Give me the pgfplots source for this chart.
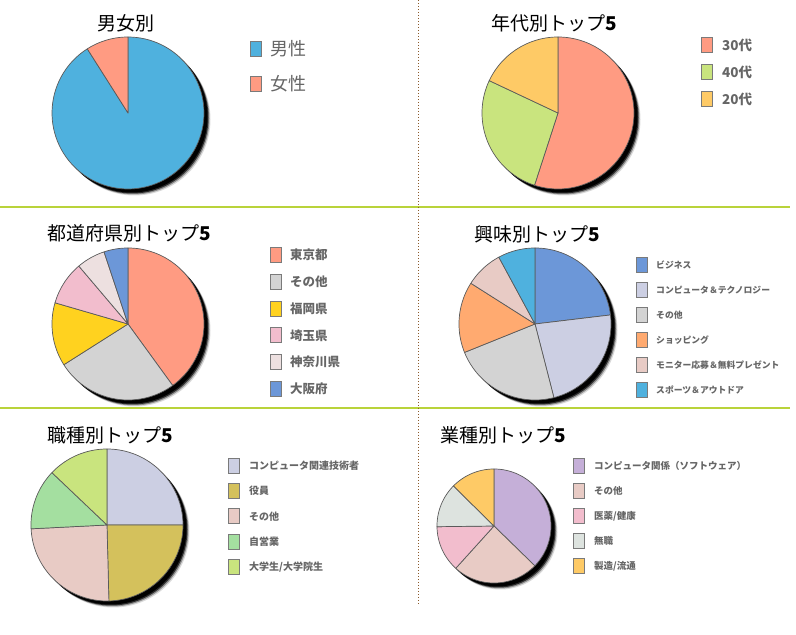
\documentclass[border=0pt]{standalone}
\usepackage{pgfplots}
\pgfplotsset{compat=1.18}
\usepackage{pgfplotstable}
\usepgfplotslibrary{polar}
\usepackage{fontspec}
\setmainfont{Noto Sans CJK JP}

\definecolor{cBlue}{HTML}{4FB1DE}
\definecolor{cSalmon}{HTML}{FF9B82}
\definecolor{cLGreen}{HTML}{C9E47E}
\definecolor{cOrange}{HTML}{FECA66}
\definecolor{cGray}{HTML}{D3D3D3}
\definecolor{cYellow}{HTML}{FFD21F}
\definecolor{cPink}{HTML}{F2BDCD}
\definecolor{cPinkGray}{HTML}{EDE0E0}
\definecolor{cSteel}{HTML}{6C97D8}
\definecolor{cLav}{HTML}{CCCFE3}
\definecolor{cApricot}{HTML}{FFAA70}
\definecolor{cRose}{HTML}{E8CBC5}
\definecolor{cOlive}{HTML}{D4C15C}
\definecolor{cMint}{HTML}{A4DFA0}
\definecolor{cPurple}{HTML}{C5AFD8}
\definecolor{cPale}{HTML}{DDE3DF}
\definecolor{edge}{HTML}{5A5A5A}
\definecolor{legedge}{HTML}{7A7A7A}
\definecolor{legtext}{HTML}{666666}
\definecolor{sepline}{HTML}{B9D33A}
\definecolor{dotline}{HTML}{8B5A2B}

\pgfplotstableread{
label value color
男性 91 cBlue
女性 9 cSalmon
}\tblA
\pgfplotstableread{
label value color
30代 55 cSalmon
40代 27 cLGreen
20代 18 cOrange
}\tblB
\pgfplotstableread{
label value color
東京都 40 cSalmon
その他 26 cGray
福岡県 13.5 cYellow
埼玉県 9.3 cPink
神奈川県 6.1 cPinkGray
大阪府 5.1 cSteel
}\tblC
\pgfplotstableread{
label value color
ビジネス 23.1 cSteel
コンピュータ＆テクノロジー 22.9 cLav
その他 22.9 cGray
ショッピング 15.1 cApricot
モニター応募＆無料プレゼント 8.1 cRose
スポーツ＆アウトドア 7.9 cBlue
}\tblD
\pgfplotstableread{
label value color
コンピュータ関連技術者 25 cLav
役員 24.6 cOlive
その他 24.6 cRose
自営業 12.9 cMint
大学生/大学院生 12.9 cLGreen
}\tblE
\pgfplotstableread{
label value color
コンピュータ関係（ソフトウェア） 37.3 cPurple
その他 24.4 cRose
医薬/健康 13.1 cPink
無職 12.6 cPale
製造/流通 12.6 cOrange
}\tblF

\pgfplotsset{pieaxis/.style={scale only axis, hide axis, xmin=-1, xmax=1, ymin=-1, ymax=1, anchor=center, clip=false}}

\newcommand{\drawpie}[1]{%
  \pgfplotstablegetrowsof{#1}\pgfmathtruncatemacro{\last}{\pgfplotsretval-1}%
  \def\cum{0}%
  \pgfplotsforeachungrouped \i in {0,...,\last}{%
    \pgfplotstablegetelem{\i}{value}\of{#1}\let\val\pgfplotsretval
    \pgfplotstablegetelem{\i}{color}\of{#1}\let\col\pgfplotsretval
    \pgfmathsetmacro{\hi}{90-3.6*\cum}%
    \pgfmathsetmacro{\newcum}{\cum+\val}%
    \pgfmathsetmacro{\lo}{90-3.6*\newcum}%
    \let\cum\newcum
    \edef\doplot{\noexpand\addplot[data cs=polar, fill=\col, draw=edge, line width=0.7pt, line join=round, domain=\lo:\hi, samples=100] {1} -- (axis cs:0,0) -- cycle;}%
    \doplot
  }%
}

\newcommand{\piechart}[4]{%
  \pgfmathsetmacro{\diam}{2*#4}%
  \foreach \s/\o in {6.5/0.15,5.5/0.35,4.5/0.7,3.5/1}{%
    \begin{axis}[pieaxis, at={(#2pt+\s pt,#3pt-\s pt)}, width=\diam pt, height=\diam pt]
      \addplot[data cs=polar, fill=black, draw=none, opacity=\o, domain=0:360, samples=120] {1};
    \end{axis}
  }%
  \begin{axis}[pieaxis, at={(#2pt,#3pt)}, width=\diam pt, height=\diam pt]
    \drawpie{#1}
  \end{axis}
}

\newcommand{\drawlegend}[6]{%
  \pgfplotstablegetrowsof{#1}\pgfmathtruncatemacro{\lastl}{\pgfplotsretval-1}%
  \foreach \i in {0,...,\lastl}{%
    \pgfplotstablegetelem{\i}{label}\of{#1}\let\lab\pgfplotsretval
    \pgfplotstablegetelem{\i}{color}\of{#1}\let\col\pgfplotsretval
    \pgfmathsetmacro{\yy}{#3-#4*\i}%
    \filldraw[fill=\col, draw=legedge, line width=0.8pt] (#2pt,\yy pt-7.5pt) rectangle ++(11pt,15pt);
    \node[anchor=west, inner sep=0pt, text=legtext, font=#6] at (#5pt,\yy pt) {\lab};
  }%
}

\begin{document}
\begin{tikzpicture}
\useasboundingbox (0pt,0pt) rectangle (796pt,635pt);

\piechart{\tblA}{128}{522}{76}
\piechart{\tblB}{558}{522}{76}
\piechart{\tblC}{128}{311}{76}
\piechart{\tblD}{535}{311}{76}
\piechart{\tblE}{107}{110}{76}
\piechart{\tblF}{494}{109}{57}

\def\tfont{\fontsize{19}{19}\selectfont}
\node[font=\tfont] at (126pt,612pt) {男女別};
\node[font=\tfont] at (554pt,612pt) {年代別トップ{\bfseries 5}};
\node[font=\tfont] at (129pt,402pt) {都道府県別トップ{\bfseries 5}};
\node[font=\tfont] at (537pt,401pt) {興味別トップ{\bfseries 5}};
\node[font=\tfont] at (110pt,200pt) {職種別トップ{\bfseries 5}};
\node[font=\tfont] at (503pt,200pt) {業種別トップ{\bfseries 5}};

\drawlegend{\tblA}{250}{586}{34.5}{270}{\fontsize{18}{18}\selectfont}
\drawlegend{\tblB}{701}{590}{27}{722}{\fontsize{13.5}{13.5}\selectfont\bfseries}
\drawlegend{\tblC}{270}{380}{26.8}{290}{\fontsize{12.5}{12.5}\selectfont\bfseries}
\drawlegend{\tblD}{636}{370}{25}{656}{\fontsize{8.8}{8.8}\selectfont\bfseries}
\drawlegend{\tblE}{228}{169}{25.2}{249}{\fontsize{10}{10}\selectfont\bfseries}
\drawlegend{\tblF}{573}{169}{25}{594}{\fontsize{9.5}{9.5}\selectfont\bfseries}

\draw[sepline, line width=1.5pt] (0pt,428pt) -- (790pt,428pt);
\draw[sepline, line width=1.5pt] (0pt,227pt) -- (790pt,227pt);
\draw[dotline, line width=1pt, dash pattern=on 1pt off 2pt] (418pt,635pt) -- (418pt,30pt);
\end{tikzpicture}
\end{document}
